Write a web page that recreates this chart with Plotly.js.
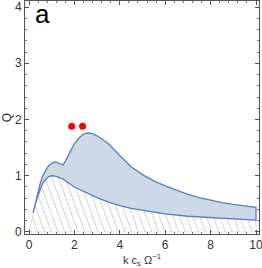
<!DOCTYPE html>
<html>
<head>
<meta charset="utf-8">
<script src="https://cdn.plot.ly/plotly-3.0.1.min.js"></script>
<style>
html,body{margin:0;padding:0;background:#fff;}
#chart{width:262px;height:268px;}
</style>
</head>
<body>
<div id="chart"></div>
<script>
// Lower stability boundary (top of hatched region)
var kLow = [0, 0.18, 0.3, 0.4, 0.5, 0.6, 0.7, 0.8, 0.9, 1.0, 1.2, 1.5, 2.0, 2.5, 3.0, 3.5, 4.0, 4.5, 5.0, 6.0, 7.0, 8.0, 9.0, 10.0];
var qLow = [0, 0.34, 0.52, 0.65, 0.77, 0.86, 0.92, 0.96, 0.99, 1.0, 0.99, 0.94, 0.80, 0.70, 0.61, 0.53, 0.47, 0.42, 0.38, 0.32, 0.28, 0.25, 0.23, 0.21];
// Upper boundary of shaded band
var kUp = [0.18, 0.3, 0.4, 0.5, 0.6, 0.7, 0.8, 0.9, 1.0, 1.1, 1.2, 1.3, 1.4, 1.5, 1.6, 1.8, 2.0, 2.2, 2.4, 2.6, 2.8, 3.0, 3.5, 4.0, 4.5, 5.0, 5.5, 6.0, 6.5, 7.0, 7.5, 8.0, 8.5, 9.0, 9.5, 10.0];
var qUp = [0.34, 0.55, 0.72, 0.87, 0.99, 1.08, 1.14, 1.19, 1.22, 1.24, 1.24, 1.22, 1.20, 1.19, 1.26, 1.42, 1.57, 1.67, 1.74, 1.76, 1.75, 1.71, 1.57, 1.36, 1.16, 1.02, 0.91, 0.82, 0.74, 0.67, 0.61, 0.56, 0.52, 0.49, 0.46, 0.44];
// Marked points
var ptK = [1.88, 2.36];
var ptQ = [1.88, 1.88];

function interpLow(k){
  if (k <= kLow[0]) return qLow[0];
  for (var i=1;i<kLow.length;i++){
    if (k <= kLow[i]){
      var t=(k-kLow[i-1])/(kLow[i]-kLow[i-1]);
      return qLow[i-1]+t*(qLow[i]-qLow[i-1]);
    }
  }
  return qLow[qLow.length-1];
}

// hatch lines computed from the lower curve
var hs = 1.11, hstep = 0.295;
var kEnd = kLow[kLow.length-1];
var hx = [], hy = [];
for (var c = 0.1; c < kEnd + 1; c += hstep){
  var kb = Math.min(c, kEnd), qb = hs*(c-kb);
  if (qb >= interpLow(kb)) continue;
  var a = 0, b = kb;
  for (var it=0; it<40; it++){
    var m=(a+b)/2;
    if (hs*(c-m) - interpLow(m) > 0) a = m; else b = m;
  }
  var kt=(a+b)/2;
  hx.push(kb, kt, null); hy.push(qb, hs*(c-kt), null);
}

// hatch region outline
var outK = kLow.concat([kEnd, 0]);
var outQ = qLow.concat([0, 0]);

// band polygon: upper curve forward, lower curve backward
var lowRevK = [], lowRevQ = [];
for (var i=kLow.length-1;i>=0;i--){ if (kLow[i]>=kUp[0]) { lowRevK.push(kLow[i]); lowRevQ.push(qLow[i]); } }
var bandK = kUp.concat(lowRevK);
var bandQ = qUp.concat(lowRevQ);

var traces = [
  {x: outK, y: outQ, mode:'lines', line:{color:'#dcdcdc', width:0.8}, hoverinfo:'skip'},
  {x: hx, y: hy, mode:'lines', line:{color:'#c8c8c8', width:0.8}, hoverinfo:'skip', connectgaps:false},
  {x: bandK, y: bandQ, mode:'lines', fill:'toself', fillcolor:'rgba(205,216,233,1)', line:{color:'#5c7fb6', width:1.3}},
  {x: ptK, y: ptQ, mode:'markers', marker:{color:'#ff0000', size:7}}
];

var axisCommon = {
  showgrid:false, zeroline:false, showline:true, linecolor:'#555', linewidth:1,
  mirror:'allticks', ticks:'inside', ticklen:4, tickcolor:'#555', tickwidth:1,
  ticklabeloverflow:'allow',
  tickfont:{family:'Liberation Sans, Arial, sans-serif', size:12, color:'#333'}
};

var layout = {
  width:262, height:268,
  margin:{l:25, r:3, t:1, b:34, pad:0},
  paper_bgcolor:'#fff', plot_bgcolor:'#fff',
  showlegend:false,
  xaxis: Object.assign({}, axisCommon, {
    range:[-0.176, 10.132], tickvals:[0,2,4,6,8,10],
    minor:{dtick:0.4, tick0:0, ticks:'inside', ticklen:2, tickcolor:'#777'},
    title:{text:'k c<sub>s</sub> Ω<sup>−1</sup>', font:{family:'Liberation Sans, Arial, sans-serif', size:11, color:'#333'}, standoff:9}
  }),
  yaxis: Object.assign({}, axisCommon, {
    range:[-0.036, 4.107], tickvals:[0,1,2,3,4],
    minor:{dtick:0.2, tick0:0, ticks:'inside', ticklen:2, tickcolor:'#777'},
    title:{text:'Q', font:{family:'Liberation Sans, Arial, sans-serif', size:12, color:'#333'}, standoff:4}
  }),
  annotations:[{text:'a', xref:'paper', yref:'paper', x:0.035, y:1.0, yshift:4, xanchor:'left', yanchor:'top', showarrow:false,
    font:{family:'Liberation Sans, Arial, sans-serif', size:26, color:'#000'}}]
};

Plotly.newPlot('chart', traces, layout, {staticPlot:true, displayModeBar:false});
</script>
</body>
</html>
